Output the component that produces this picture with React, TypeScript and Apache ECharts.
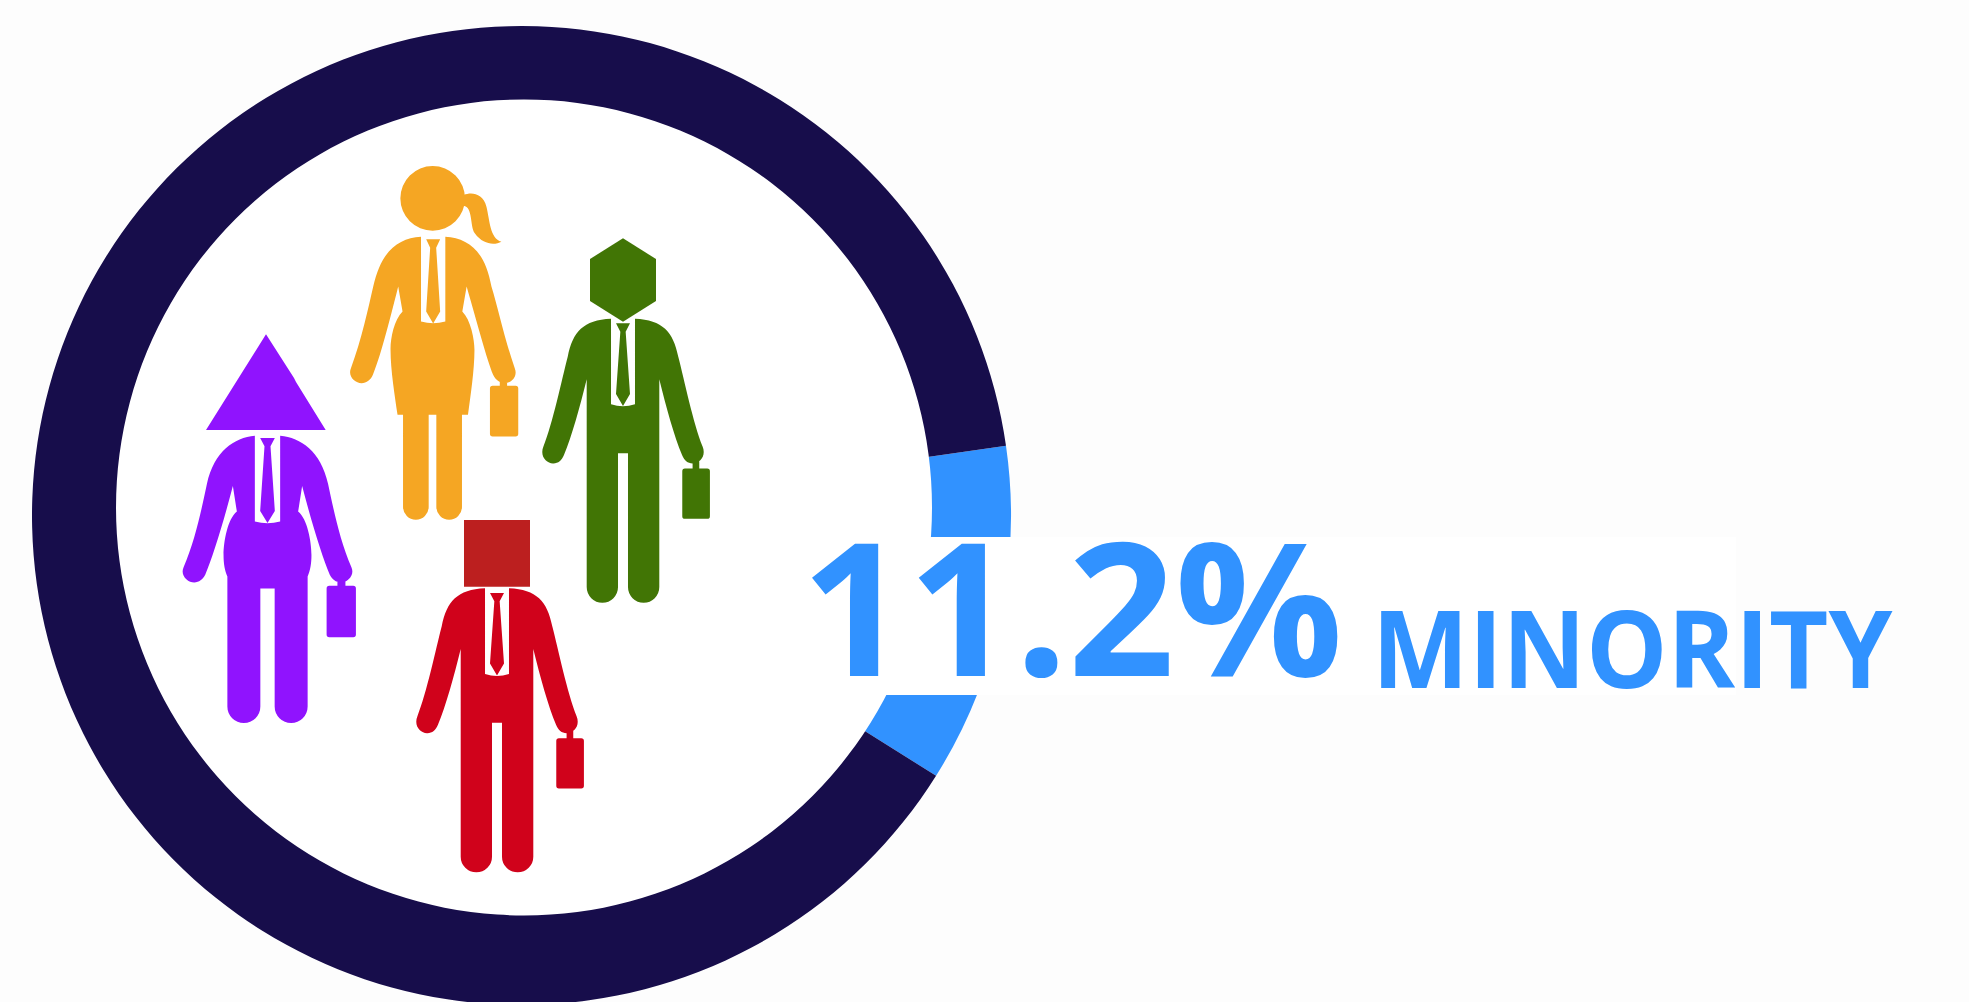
import React, { useEffect, useRef } from "react";
import * as echarts from "echarts";

const shareLabels = ["Minority", "Majority"];
const shareValues = [11.2, 88.8];
const shareColors = ["#3192FF", "#170D4B"];
const headline = "11.2%";
const subline = "MINORITY";

const TIE = (a: number, b: number, c: number, d: number) =>
  `M${-a},${b} L${-c},${b + 25} L${-a},${d} L0,${d + 36} L${a},${d} L${c},${b + 25} L${a},${b} Z`;

const CASE = (x0: number, x1: number, y0: number, y1: number, hx0: number, hx1: number, hy: number) =>
  `M${hx0},${hy} L${hx0},${y0} L${x0 + 8},${y0} Q${x0},${y0} ${x0},${y0 + 8} L${x0},${y1 - 8} Q${x0},${y1} ${x0 + 8},${y1} L${x1 - 8},${y1} Q${x1},${y1} ${x1},${y1 - 8} L${x1},${y0 + 8} Q${x1},${y0} ${x1 - 8},${y0} L${hx1},${y0} L${hx1},${hy} Z`;

const MAN =
  "M-36,0 C-119,4 -151,39 -166,114 C-184,184 -211,314 -239,384 C-251,414 -229,436 -209,435 C-194,435 -184,426 -177,409 " +
  "C-154,354 -129,264 -109,182 L-109,806 A47,47 0 0 0 -15,806 L-15,404 L15,404 L15,806 A47,47 0 0 0 109,806 L109,182 " +
  "C129,264 154,354 177,409 C184,426 194,435 209,435 C229,436 251,414 239,384 C211,314 184,184 166,114 C151,39 119,4 36,0 " +
  "L36,257 Q0,269 -36,257 Z " +
  TIE(21, 14, 8, 226) +
  " " +
  CASE(178, 261, 450, 601, 209, 229, 425);

const WOMAN =
  "M-36.5,0 C-105,5 -155,40 -180,150 C-195,215 -215,310 -247,395 C-257,420 -235,440 -215,440 C-200,440 -187,430 -181,415 " +
  "C-160,365 -135,270 -105,150 L-92,225 C-118,250 -129,310 -128,340 C-128,400 -115,480 -107,535 L-90.5,535 L-90.5,811.5 " +
  "A38.5,38.5 0 0 0 -13.5,811.5 L-13.5,535 L9.5,535 L9.5,811.5 A38.5,38.5 0 0 0 86.5,811.5 L86.5,535 L104.5,535 " +
  "C112,480 124,400 124,340 C124,310 113,250 87.5,225 L100.5,150 C135,270 160,365 180,415 C187,430 200,440 215,440 " +
  "C235,440 255,420 245,395 C215,310 195,215 175,150 C155,40 105,5 36.5,0 L36.5,255 Q0,265 -36.5,255 Z " +
  TIE(21, 8, 9, 225) +
  " " +
  CASE(170.5, 255.5, 448, 600, 200, 222, 425) +
  " M95.5,-115 A97,97 0 1 1 -98.5,-115 A97,97 0 1 1 95.5,-115 Z" +
  " M92,-125 C115,-135 150,-130 160,-90 C170,-50 170,5 205,15 C185,26 150,25 125,-10 C110,-30 120,-90 91,-93 Z";

const PURPLE =
  "M-38,0 C-100,6 -160,45 -182,145 C-195,205 -215,310 -252,395 C-263,420 -240,441 -220,441 C-205,441 -195,432 -187,418 " +
  "C-165,365 -135,270 -104,151 L-92,228 C-120,250 -132,320 -132,358 C-132,385 -128,405 -120.5,423 L-120.5,813.5 " +
  "A49.5,49.5 0 0 0 -21.5,813.5 L-21.5,459 L21.5,459 L21.5,813.5 A49.5,49.5 0 0 0 120.5,813.5 L120.5,423 " +
  "C128,405 132,385 132,358 C132,320 120,250 92,228 L104,151 C135,270 165,365 187,418 C195,432 205,441 220,441 " +
  "C240,441 263,420 252,395 C215,310 195,205 182,145 C160,45 100,6 38,0 L38,258 Q0,268 -38,258 Z " +
  TIE(22, 7, 9, 226) +
  " " +
  CASE(177.5, 265.5, 451, 605, 210, 234, 425);

export default function App() {
  const ref = useRef<HTMLDivElement>(null);
  useEffect(() => {
    document.body.style.margin = "0";
    document.body.style.background = "#fdfdfd";
    echarts.graphic.registerShape("manFigure", echarts.graphic.extendPath(MAN, {}));
    echarts.graphic.registerShape("womanFigure", echarts.graphic.extendPath(WOMAN, {}));
    echarts.graphic.registerShape("purpleFigure", echarts.graphic.extendPath(PURPLE, {}));
    const chart = echarts.init(ref.current!, undefined, { renderer: "svg" });
    const third = 1 / 3;
    chart.setOption({
      animation: false,
      backgroundColor: "#fdfdfd",
      series: [
        {
          type: "pie",
          center: [521.5, 515.5],
          radius: [250, 489.5],
          startAngle: 8.2,
          clockwise: true,
          silent: true,
          label: { show: false },
          labelLine: { show: false },
          itemStyle: { borderWidth: 0 },
          data: shareLabels.map((name, i) => ({
            name,
            value: shareValues[i],
            itemStyle: { color: shareColors[i] },
          })),
        },
      ],
      graphic: [
        { type: "circle", z: 10, shape: { cx: 524, cy: 507.5, r: 408 }, style: { fill: "#ffffff" } },
        { type: "rect", z: 11, shape: { x: 800, y: 537, width: 936, height: 158 }, style: { fill: "#ffffff" } },
        { type: "womanFigure", z: 12, x: 433.17, y: 236.67, scaleX: third, scaleY: third, style: { fill: "#F5A623" } },
        { type: "manFigure", z: 12, x: 623, y: 318.67, scaleX: third, scaleY: third, style: { fill: "#417505" } },
        { type: "manFigure", z: 12, x: 497, y: 588.33, scaleX: third, scaleY: third, style: { fill: "#D0021B" } },
        { type: "purpleFigure", z: 12, x: 267.5, y: 435.67, scaleX: third, scaleY: third, style: { fill: "#9013FE" } },
        {
          type: "polygon",
          z: 12,
          shape: { points: [[266, 334.3], [294, 378], [296, 382], [325.7, 430], [206, 430]] },
          style: { fill: "#9013FE" },
        },
        {
          type: "polygon",
          z: 12,
          shape: { points: [[623, 238.3], [656, 259], [656, 301], [623, 321.7], [590, 301], [590, 259]] },
          style: { fill: "#417505" },
        },
        { type: "rect", z: 12, shape: { x: 464, y: 520, width: 66, height: 66.7 }, style: { fill: "#BC1F1F" } },
        {
          type: "text",
          z: 13,
          x: 801,
          y: 511.6,
          scaleX: 1.01,
          style: {
            text: headline,
            fill: shareColors[0],
            font: '700 185px "Open Sans"',
            align: "left",
            verticalAlign: "top",
          },
        },
        {
          type: "text",
          z: 13,
          x: 1372,
          y: 593.5,
          scaleX: 0.958,
          style: {
            text: subline,
            fill: shareColors[0],
            font: '700 107px "Open Sans"',
            align: "left",
            verticalAlign: "top",
          },
        },
      ],
    });
    return () => chart.dispose();
  }, []);
  return <div ref={ref} style={{ width: 1969, height: 1002, overflow: "hidden" }} />;
}
